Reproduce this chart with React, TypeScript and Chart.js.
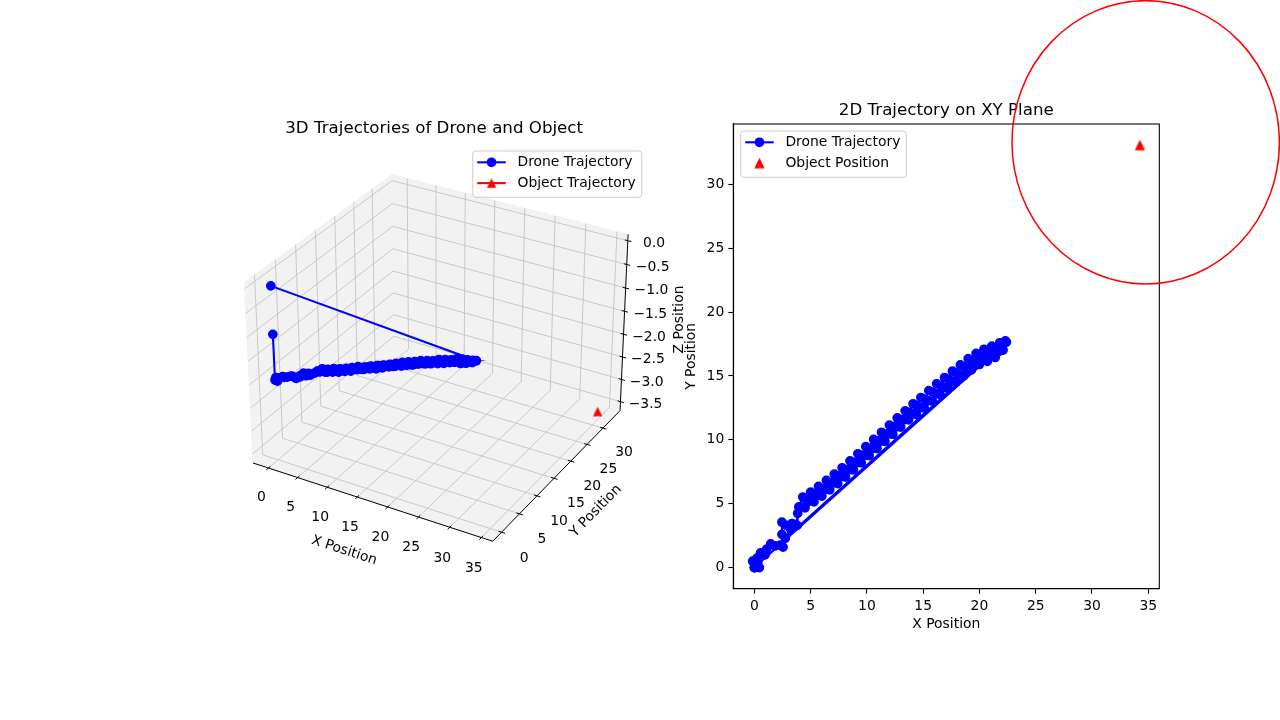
import React, { useEffect, useRef } from "react";
import { Chart, registerables } from "chart.js";

Chart.register(...registerables);

// ---------------- data ----------------
const droneX = [
  0.0, 0.05, 0.45, 0.3, -0.15, 0.25, 0.55, 0.95, 1.1, 1.45, 1.85, 2.3, 2.55, 2.45, 2.45, 2.85, 3.35, 3.8, 3.85, 3.95,
  4.3, 4.65, 5.0, 5.35, 5.7, 6.05, 6.4, 6.75, 7.1, 7.45,
  7.8, 8.15, 8.5, 8.85, 9.2, 9.55, 9.9, 10.25, 10.6, 10.95,
  11.3, 11.65, 12.0, 12.35, 12.7, 13.05, 13.4, 13.75, 14.1, 14.45,
  14.8, 15.15, 15.5, 15.85, 16.2, 16.55, 16.9, 17.25, 17.6, 17.95,
  18.3, 18.65, 19.0, 19.35, 19.7, 20.05, 20.4, 20.75, 21.1, 21.45,
  21.8, 22.3,
  2.75, 3.2, 3.6,
  4.1, 4.5, 4.9, 5.3, 5.65, 6.0, 6.35, 6.7, 7.05, 7.4,
  7.75, 8.1, 8.45, 8.8, 9.15, 9.5, 9.85, 10.2, 10.55, 10.9,
  11.25, 11.6, 11.95, 12.3, 12.65, 13.0, 13.35, 13.7, 14.05, 14.4,
  14.75, 15.1, 15.45, 15.8, 16.15, 16.5, 16.85, 17.2, 17.55, 17.9,
  18.25, 18.6, 18.95, 19.3, 19.65, 20.0, 20.35, 20.7, 21.05, 21.4,
  21.75, 22.1, 22.4,
  0.0,
];
const droneY = [
  0.0, 0.0, 0.0, 0.35, 0.5, 0.75, 1.15, 1.0, 1.45, 1.85, 1.7, 1.75, 1.6, 2.6, 3.55, 3.3, 3.45, 3.3, 4.25, 4.75,
  5.52, 5.31, 5.9, 5.73, 6.35, 6.19, 6.83, 6.68, 7.32, 7.17,
  7.81, 7.67, 8.35, 8.23, 8.91, 8.79, 9.47, 9.35, 10.03, 9.91,
  10.59, 10.47, 11.15, 11.03, 11.71, 11.59, 12.27, 12.15, 12.82, 12.67,
  13.31, 13.17, 13.85, 13.73, 14.39, 14.24, 14.88, 14.73, 15.37, 15.22,
  15.86, 15.71, 16.35, 16.16, 16.77, 16.57, 17.09, 16.81, 17.34, 17.13,
  17.6, 17.75,
  2.3, 3.05, 3.25,
  4.76, 4.68, 5.2, 5.15, 5.67, 5.6, 6.15, 6.09, 6.64, 6.58,
  7.13, 7.08, 7.66, 7.64, 8.22, 8.2, 8.78, 8.76, 9.34, 9.32,
  9.9, 9.88, 10.46, 10.44, 11.02, 11.0, 11.58, 11.56, 12.04, 11.98,
  12.53, 12.48, 13.06, 13.04, 13.6, 13.55, 14.1, 14.04, 14.59, 14.53,
  15.08, 15.02, 15.57, 15.48, 15.99, 15.9, 16.32, 16.15, 16.57, 16.45,
  16.93, 17.03, 17.65,
  0.0,
];
const droneZ = [
  -1.0, -1.96, -1.97, -1.96, -1.95, -1.96, -1.95, -1.94, -1.96, -1.95, -1.93, -1.95, -1.94, -1.96, -1.97, -1.95, -1.93, -1.94, -1.96, -1.95,
  -1.94, -1.93, -1.95, -1.96, -1.94, -1.93, -1.95, -1.94, -1.95, -1.93,
  -1.94, -1.95, -1.93, -1.94, -1.95, -1.93, -1.94, -1.93, -1.94, -1.92,
  -1.94, -1.93, -1.94, -1.92, -1.93, -1.94, -1.92, -1.93, -1.92, -1.94,
  -1.92, -1.93, -1.91, -1.93, -1.92, -1.91, -1.93, -1.92, -1.91, -1.93,
  -1.92, -1.91, -1.93, -1.92, -1.91, -1.92, -1.91, -1.93, -1.92, -1.91,
  -1.92, -1.92,
  -1.95, -1.96, -1.94,
  -1.95, -1.94, -1.96, -1.95, -1.93, -1.95, -1.94, -1.96, -1.94, -1.95,
  -1.93, -1.95, -1.94, -1.93, -1.95, -1.94, -1.92, -1.94, -1.93, -1.95,
  -1.93, -1.94, -1.92, -1.93, -1.95, -1.93, -1.92, -1.94, -1.93, -1.92,
  -1.94, -1.92, -1.93, -1.91, -1.93, -1.92, -1.94, -1.92, -1.91, -1.93,
  -1.92, -1.93, -1.91, -1.92, -1.93, -1.91, -1.92, -1.93, -1.91, -1.92,
  -1.91, -1.92, -1.91,
  0.0,
];
const objectX = [34.26];
const objectY = [33.07];
const objectZ = [-3.65];

const xTicks3D = [0, 5, 10, 15, 20, 25, 30, 35];
const yTicks3D = [0, 5, 10, 15, 20, 25, 30];
const zTicks3D = [0, -0.5, -1, -1.5, -2, -2.5, -3, -3.5];
const zLimits: [number, number] = [-3.625, 0.055];

const xTicks2D = [0, 5, 10, 15, 20, 25, 30, 35];
const yTicks2D = [0, 5, 10, 15, 20, 25, 30];

const circleCenterX = 34.77;
const circleCenterY = 33.29;
const circleRadiusX = 11.88;
const circleRadiusY = 11.09;

const title3D = "3D Trajectories of Drone and Object";
const title2D = "2D Trajectory on XY Plane";
const legend3D = ["Drone Trajectory", "Object Trajectory"];
const legend2D = ["Drone Trajectory", "Object Position"];

// ---------------- style ----------------
const FONT = '"DejaVu Sans", "Liberation Sans", sans-serif';
const TICK_PX = 13.9;
const TITLE_PX = 16.67;
const BLUE = "#0000ff";
const RED = "#ff0000";
const ELEV = 30;
const AZIM = -60;
const VIEW_DIST = 10;
const BOX_ASPECT = [4, 4, 3];

type V3 = [number, number, number];
const dot = (a: V3, b: V3) => a[0] * b[0] + a[1] * b[1] + a[2] * b[2];
const cross = (a: V3, b: V3): V3 => [a[1] * b[2] - a[2] * b[1], a[2] * b[0] - a[0] * b[2], a[0] * b[1] - a[1] * b[0]];
const unit = (a: V3): V3 => {
  const l = Math.hypot(a[0], a[1], a[2]);
  return [a[0] / l, a[1] / l, a[2] / l];
};

function marginLimits(values: number[], m = 0.05): [number, number] {
  const lo = Math.min(...values);
  const hi = Math.max(...values);
  const r = hi - lo;
  return [lo - m * r, hi + m * r];
}

function buildProjector(xl: number[], yl: number[], zl: number[]) {
  const n = Math.hypot(BOX_ASPECT[0], BOX_ASPECT[1], BOX_ASPECT[2]);
  const A = BOX_ASPECT.map((a) => (a * 1.8294640721620434) / n) as V3;
  const el = (ELEV * Math.PI) / 180;
  const az = (AZIM * Math.PI) / 180;
  const R: V3 = [A[0] / 2, A[1] / 2, A[2] / 2];
  const ps: V3 = [Math.cos(el) * Math.cos(az), Math.cos(el) * Math.sin(az), Math.sin(el)];
  const E: V3 = [R[0] + VIEW_DIST * ps[0], R[1] + VIEW_DIST * ps[1], R[2] + VIEW_DIST * ps[2]];
  const w = unit([E[0] - R[0], E[1] - R[1], E[2] - R[2]]);
  const u = unit(cross([0, 0, 1], w));
  const v = cross(w, u);
  const lims = [xl, yl, zl];
  const toWorld = (p: number[]): V3 =>
    p.map((c, i) => ((c - lims[i][0]) / (lims[i][1] - lims[i][0])) * A[i]) as V3;
  const projWorld = (p: V3): [number, number] => {
    const d: V3 = [p[0] - E[0], p[1] - E[1], p[2] - E[2]];
    const vz = dot(w, d);
    return [dot(u, d) / -vz, dot(v, d) / -vz];
  };
  const pad = A.map((a) => a / 48);
  const lo = pad.map((p) => -p) as V3;
  const hi = A.map((a, i) => a + pad[i]) as V3;
  return { A, lo, hi, toWorld, projWorld, project: (p: number[]) => projWorld(toWorld(p)) };
}

function makeTriangle(half: number, color: string) {
  const size = Math.ceil(half * 2 + 4);
  const c = document.createElement("canvas");
  c.width = size;
  c.height = size;
  const g = c.getContext("2d")!;
  const m = size / 2;
  g.fillStyle = color;
  g.beginPath();
  g.moveTo(m, m - half);
  g.lineTo(m - half, m + half);
  g.lineTo(m + half, m + half);
  g.closePath();
  g.fill();
  return c;
}

type LegendEntry = { label: string; color: string; line: boolean; marker: "circle" | HTMLCanvasElement };

function legendWidth(ctx: CanvasRenderingContext2D, entries: LegendEntry[]) {
  ctx.save();
  ctx.font = `${TICK_PX}px ${FONT}`;
  const tw = Math.max(...entries.map((e) => ctx.measureText(e.label).width));
  ctx.restore();
  return 44.7 + tw + 6;
}

function drawLegend(ctx: CanvasRenderingContext2D, left: number, top: number, entries: LegendEntry[]) {
  const width = legendWidth(ctx, entries);
  const height = 46.3;
  ctx.save();
  ctx.beginPath();
  const r = 3;
  ctx.moveTo(left + r, top);
  ctx.arcTo(left + width, top, left + width, top + height, r);
  ctx.arcTo(left + width, top + height, left, top + height, r);
  ctx.arcTo(left, top + height, left, top, r);
  ctx.arcTo(left, top, left + width, top, r);
  ctx.closePath();
  ctx.fillStyle = "rgba(255,255,255,0.8)";
  ctx.fill();
  ctx.strokeStyle = "#cccccc";
  ctx.lineWidth = 1;
  ctx.stroke();
  entries.forEach((e, i) => {
    const cy = top + 11.3 + i * 20.8;
    const x0 = left + 4.5;
    const x1 = left + 33;
    const cx = (x0 + x1) / 2;
    if (e.line) {
      ctx.strokeStyle = e.color;
      ctx.lineWidth = 2.08;
      ctx.beginPath();
      ctx.moveTo(x0, cy);
      ctx.lineTo(x1, cy);
      ctx.stroke();
    }
    if (e.marker === "circle") {
      ctx.fillStyle = e.color;
      ctx.beginPath();
      ctx.arc(cx, cy, 4.86, 0, Math.PI * 2);
      ctx.fill();
    } else {
      const img = e.marker;
      ctx.drawImage(img, cx - img.width / 2, cy - img.height / 2);
    }
    ctx.fillStyle = "#000";
    ctx.font = `${TICK_PX}px ${FONT}`;
    ctx.textAlign = "left";
    ctx.textBaseline = "middle";
    ctx.fillText(e.label, left + 44.7, cy + 0.5);
  });
  ctx.restore();
}

function fmtZ(v: number) {
  const s = Math.abs(v).toFixed(1);
  return v < 0 ? "\u2212" + s : s;
}

export default function App() {
  const ref3d = useRef<HTMLCanvasElement | null>(null);
  const ref2d = useRef<HTMLCanvasElement | null>(null);

  useEffect(() => {
    const xLim = marginLimits([...droneX, ...objectX]);
    const yLim = marginLimits([...droneY, ...objectY]);
    const P = buildProjector(xLim, yLim, zLimits);

    const triObj3D = makeTriangle(4.65, RED);
    const triObj2D = makeTriangle(5.2, RED);

    const dronePts = droneX.map((x, i) => {
      const [X, Y] = P.project([x, droneY[i], droneZ[i]]);
      return { x: X, y: Y };
    });
    const objPts = objectX.map((x, i) => {
      const [X, Y] = P.project([x, objectY[i], objectZ[i]]);
      return { x: X, y: Y };
    });

    const scene3D = {
      id: "scene3d",
      beforeDatasetsDraw(chart: any) {
        const ctx: CanvasRenderingContext2D = chart.ctx;
        const xs = chart.scales.x;
        const ys = chart.scales.y;
        const px = (p: V3) => {
          const [X, Y] = P.projWorld(p);
          return [xs.getPixelForValue(X), ys.getPixelForValue(Y)];
        };
        const { lo, hi, A } = P;
        const poly = (pts: V3[], close: boolean) => {
          ctx.beginPath();
          pts.forEach((p, i) => {
            const [a, b] = px(p);
            if (i === 0) ctx.moveTo(a, b);
            else ctx.lineTo(a, b);
          });
          if (close) ctx.closePath();
        };
        ctx.save();
        const panes: V3[][] = [
          [[lo[0], lo[1], lo[2]], [lo[0], hi[1], lo[2]], [lo[0], hi[1], hi[2]], [lo[0], lo[1], hi[2]]],
          [[lo[0], hi[1], lo[2]], [hi[0], hi[1], lo[2]], [hi[0], hi[1], hi[2]], [lo[0], hi[1], hi[2]]],
          [[lo[0], lo[1], lo[2]], [hi[0], lo[1], lo[2]], [hi[0], hi[1], lo[2]], [lo[0], hi[1], lo[2]]],
        ];
        panes.forEach((pane) => {
          poly(pane, true);
          ctx.fillStyle = "#f2f2f2";
          ctx.fill();
          ctx.strokeStyle = "#f2f2f2";
          ctx.lineWidth = 1;
          ctx.stroke();
        });
        ctx.strokeStyle = "#c4c4c4";
        ctx.lineWidth = 0.9;
        xTicks3D.forEach((t) => {
          const wx = P.toWorld([t, 0, 0])[0];
          poly([[wx, lo[1], lo[2]], [wx, hi[1], lo[2]], [wx, hi[1], hi[2]]], false);
          ctx.stroke();
        });
        yTicks3D.forEach((t) => {
          const wy = P.toWorld([0, t, 0])[1];
          poly([[hi[0], wy, lo[2]], [lo[0], wy, lo[2]], [lo[0], wy, hi[2]]], false);
          ctx.stroke();
        });
        zTicks3D.forEach((t) => {
          const wz = P.toWorld([0, 0, t])[2];
          poly([[lo[0], lo[1], wz], [lo[0], hi[1], wz], [hi[0], hi[1], wz]], false);
          ctx.stroke();
        });
        ctx.strokeStyle = "#000";
        ctx.lineWidth = 1;
        poly([[lo[0], lo[1], lo[2]], [hi[0], lo[1], lo[2]]], false);
        ctx.stroke();
        poly([[hi[0], lo[1], lo[2]], [hi[0], hi[1], lo[2]]], false);
        ctx.stroke();
        poly([[hi[0], hi[1], lo[2]], [hi[0], hi[1], hi[2]]], false);
        ctx.stroke();
        const tin = 0.15 / 12;
        const tout = 0.18 / 12;
        xTicks3D.forEach((t) => {
          const wx = P.toWorld([t, 0, 0])[0];
          poly([[wx, lo[1] + tin * A[1], lo[2]], [wx, lo[1] - tout * A[1], lo[2]]], false);
          ctx.stroke();
        });
        yTicks3D.forEach((t) => {
          const wy = P.toWorld([0, t, 0])[1];
          poly([[hi[0] - tin * A[0], wy, lo[2]], [hi[0] + tout * A[0], wy, lo[2]]], false);
          ctx.stroke();
        });
        zTicks3D.forEach((t) => {
          const wz = P.toWorld([0, 0, t])[2];
          poly([[hi[0] - tin * A[0], hi[1], wz], [hi[0] + tout * A[0], hi[1], wz]], false);
          ctx.stroke();
        });
        ctx.fillStyle = "#000";
        ctx.font = `${TICK_PX}px ${FONT}`;
        ctx.textAlign = "center";
        ctx.textBaseline = "middle";
        xTicks3D.forEach((t) => {
          const wx = P.toWorld([t, 0, 0])[0];
          const [a, b] = px([wx, lo[1] - 0.062, lo[2] - 0.118]);
          ctx.fillText(String(t), a, b);
        });
        yTicks3D.forEach((t) => {
          const wy = P.toWorld([0, t, 0])[1];
          const [a, b] = px([hi[0] + 0.1086, wy, lo[2] - 0.095]);
          ctx.fillText(String(t), a, b);
        });
        zTicks3D.forEach((t) => {
          const wz = P.toWorld([0, 0, t])[2];
          const [a, b] = px([hi[0] + 0.1086, hi[1] + 0.034, wz]);
          ctx.fillText(fmtZ(t), a, b);
        });
        const label = (text: string, at: V3, from: V3, to: V3, fixedAngle?: number) => {
          const [a, b] = px(at);
          let ang = fixedAngle;
          if (ang === undefined) {
            const p0 = px(from);
            const p1 = px(to);
            ang = Math.atan2(p1[1] - p0[1], p1[0] - p0[0]);
          }
          ctx.save();
          ctx.translate(a, b);
          ctx.rotate(ang);
          ctx.fillText(text, 0, 0);
          ctx.restore();
        };
        label("X Position", [A[0] / 2, lo[1] - 0.209, lo[2] - 0.128], [lo[0], lo[1], lo[2]], [hi[0], lo[1], lo[2]]);
        label("Y Position", [hi[0] + 0.182, A[1] / 2, lo[2] - 0.136], [hi[0], lo[1], lo[2]], [hi[0], hi[1], lo[2]]);
        label("Z Position", [hi[0] + 0.192, hi[1] + 0.162, A[2] / 2], [0, 0, 0], [0, 0, 0], -Math.PI / 2);
        ctx.restore();
      },
      afterDraw(chart: any) {
        const ctx: CanvasRenderingContext2D = chart.ctx;
        const area = chart.chartArea;
        ctx.save();
        ctx.fillStyle = "#000";
        ctx.font = `${TITLE_PX}px ${FONT}`;
        ctx.textAlign = "center";
        ctx.textBaseline = "alphabetic";
        ctx.fillText(title3D, (area.left + area.right) / 2, area.top - 8.8);
        ctx.restore();
        const entries: LegendEntry[] = [
          { label: legend3D[0], color: BLUE, line: true, marker: "circle" },
          { label: legend3D[1], color: RED, line: true, marker: triObj3D },
        ];
        const w = legendWidth(ctx, entries);
        drawLegend(ctx, area.right - 5.8 - w, area.top + 9.5, entries);
      },
    };

    const chart3d = new Chart(ref3d.current!, {
      type: "scatter",
      data: {
        datasets: [
          {
            data: dronePts,
            showLine: true,
            borderColor: BLUE,
            backgroundColor: BLUE,
            borderWidth: 2.08,
            pointRadius: 4.17,
            pointBorderWidth: 1.39,
            pointBackgroundColor: BLUE,
            pointBorderColor: BLUE,
            clip: false,
            tension: 0,
          } as any,
          {
            data: objPts,
            showLine: true,
            borderColor: RED,
            backgroundColor: RED,
            borderWidth: 2.08,
            pointStyle: triObj3D,
            pointRadius: 5,
            clip: false,
          } as any,
        ],
      },
      options: {
        responsive: false,
        animation: false,
        events: [],
        layout: { padding: { left: 220.8, top: 141.5, right: 52.5, bottom: 151.8 } },
        scales: {
          x: { type: "linear", display: false, min: -0.095, max: 0.09 },
          y: { type: "linear", display: false, min: -0.095, max: 0.09 },
        },
        plugins: { legend: { display: false }, tooltip: { enabled: false }, title: { display: false } },
      },
      plugins: [scene3D as any],
    });

    const xLim2 = marginLimits([...droneX, ...objectX]);
    const yLim2 = marginLimits([...droneY, ...objectY]);

    const deco2D = {
      id: "deco2d",
      afterDraw(chart: any) {
        const ctx: CanvasRenderingContext2D = chart.ctx;
        const area = chart.chartArea;
        const xs = chart.scales.x;
        const ys = chart.scales.y;
        ctx.save();
        ctx.strokeStyle = "#000";
        ctx.lineWidth = 1.1;
        ctx.strokeRect(area.left, area.top, area.right - area.left, area.bottom - area.top);
        ctx.fillStyle = "#000";
        ctx.font = `${TITLE_PX}px ${FONT}`;
        ctx.textAlign = "center";
        ctx.textBaseline = "alphabetic";
        ctx.fillText(title2D, (area.left + area.right) / 2, area.top - 9.2);
        ctx.font = `${TICK_PX}px ${FONT}`;
        ctx.textBaseline = "middle";
        ctx.fillText("X Position", (area.left + area.right) / 2, area.bottom + 35.3);
        ctx.save();
        ctx.translate(area.left - 42.3, (area.top + area.bottom) / 2);
        ctx.rotate(-Math.PI / 2);
        ctx.fillText("Y Position", 0, 0);
        ctx.restore();
        const cx = xs.getPixelForValue(circleCenterX);
        const cy = ys.getPixelForValue(circleCenterY);
        const rx = Math.abs(xs.getPixelForValue(circleCenterX + circleRadiusX) - cx);
        const ry = Math.abs(ys.getPixelForValue(circleCenterY + circleRadiusY) - cy);
        ctx.strokeStyle = RED;
        ctx.lineWidth = 1.5;
        ctx.beginPath();
        ctx.ellipse(cx, cy, rx, ry, 0, 0, Math.PI * 2);
        ctx.stroke();
        ctx.restore();
        drawLegend(ctx, area.left + 7.4, area.top + 7, [
          { label: legend2D[0], color: BLUE, line: true, marker: "circle" },
          { label: legend2D[1], color: RED, line: false, marker: triObj2D },
        ]);
      },
    };

    const axisCommon = (ticks: number[]) => ({
      type: "linear",
      afterBuildTicks: (scale: any) => {
        scale.ticks = ticks.map((v) => ({ value: v }));
      },
      grid: {
        display: true,
        drawOnChartArea: false,
        drawTicks: true,
        tickLength: 5,
        tickColor: "#000",
        tickWidth: 1.1,
      },
      border: { display: true, color: "#000", width: 1.1 },
      ticks: {
        color: "#000",
        font: { family: FONT, size: TICK_PX },
        padding: 4,
        autoSkip: false,
        maxRotation: 0,
        minRotation: 0,
        callback: (v: any) => String(v),
      },
    });

    const chart2d = new Chart(ref2d.current!, {
      type: "scatter",
      data: {
        datasets: [
          {
            data: droneX.map((x, i) => ({ x, y: droneY[i] })),
            showLine: true,
            borderColor: BLUE,
            backgroundColor: BLUE,
            borderWidth: 2.08,
            pointRadius: 4.17,
            pointBorderWidth: 1.39,
            pointBackgroundColor: BLUE,
            pointBorderColor: BLUE,
            clip: false,
            tension: 0,
          } as any,
          {
            data: objectX.map((x, i) => ({ x, y: objectY[i] })),
            showLine: false,
            pointStyle: triObj2D,
            pointRadius: 5,
            backgroundColor: RED,
            borderColor: RED,
            clip: false,
          } as any,
        ],
      },
      options: {
        responsive: false,
        animation: false,
        events: [],
        layout: { padding: { left: 0, top: 124, right: 120.7, bottom: 0 } },
        scales: {
          x: {
            ...(axisCommon(xTicks2D) as any),
            min: xLim2[0],
            max: xLim2[1],
            afterFit: (scale: any) => {
              scale.height = 131.3;
            },
          },
          y: {
            ...(axisCommon(yTicks2D) as any),
            min: yLim2[0],
            max: yLim2[1],
            afterFit: (scale: any) => {
              scale.width = 73.3;
            },
          },
        },
        plugins: { legend: { display: false }, tooltip: { enabled: false }, title: { display: false } },
      },
      plugins: [deco2D as any],
    });

    return () => {
      chart3d.destroy();
      chart2d.destroy();
    };
  }, []);

  return (
    <div style={{ position: "absolute", left: 0, top: 0, width: 1280, height: 720, background: "#fff", overflow: "hidden" }}>
      <canvas ref={ref3d} width={700} height={720} style={{ position: "absolute", left: 0, top: 0, width: 700, height: 720 }} />
      <canvas ref={ref2d} width={620} height={720} style={{ position: "absolute", left: 660, top: 0, width: 620, height: 720 }} />
    </div>
  );
}
